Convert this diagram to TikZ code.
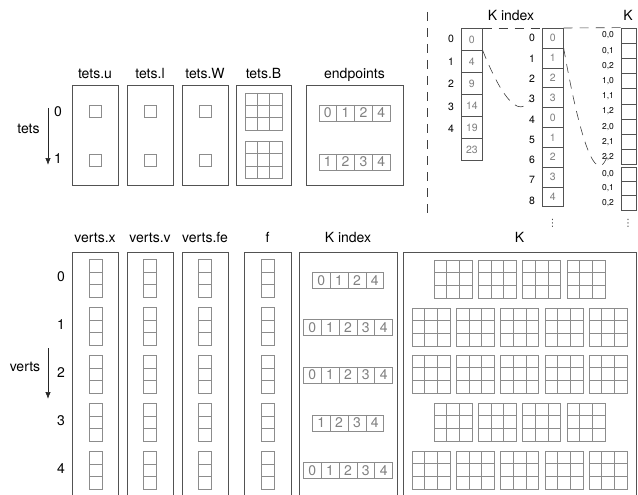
\documentclass[tikz,border=0pt]{standalone}
\usepackage{fontspec}
\setmainfont{TeX Gyre Heros}
\newfontfamily\dotsfont{DejaVu Sans}
\usetikzlibrary{shapes.multipart,arrows.meta,positioning,calc}
\usepackage{xcolor}
\definecolor{boxgray}{gray}{0.32}
\definecolor{cellgray}{gray}{0.55}
\definecolor{numgray}{gray}{0.5}

\begin{document}
\begin{tikzpicture}[x=1pt, y=-1pt,
  lbl/.style={font=\fontsize{14}{16}\selectfont, anchor=base, inner sep=0pt},
  idx/.style={font=\fontsize{14}{16}\selectfont, inner sep=0pt},
  sidx/.style={font=\fontsize{10.5}{12}\selectfont, inner sep=0pt},
  tidx/.style={font=\fontsize{8.5}{9}\selectfont, inner sep=0pt},
  vdot/.style={font=\dotsfont\fontsize{10}{10}\selectfont, text=black!70, inner sep=0pt},
  box/.style={draw=boxgray, line width=0.9pt, inner sep=0pt, minimum width=46pt},
  sq/.style={draw=cellgray, line width=0.7pt, inner sep=0pt, minimum size=12pt},
  kcell/.style={draw=boxgray, line width=0.7pt, inner sep=0pt, minimum width=15pt, minimum height=15.2pt},
  grid3/.style={draw=cellgray, line width=0.8pt, inner sep=0pt, minimum size=38pt,
    path picture={
      \foreach \q in {0.3333,0.6667} {
        \draw[cellgray, line width=0.8pt]
          ($(path picture bounding box.north west)!\q!(path picture bounding box.north east)$) --
          ($(path picture bounding box.south west)!\q!(path picture bounding box.south east)$)
          ($(path picture bounding box.north west)!\q!(path picture bounding box.south west)$) --
          ($(path picture bounding box.north east)!\q!(path picture bounding box.south east)$);
      }}},
  stack3/.style={draw=cellgray, line width=0.7pt, inner sep=0pt, minimum width=13pt, minimum height=37.5pt,
    path picture={
      \foreach \q in {0.3333,0.6667}
        \draw[cellgray, line width=0.7pt]
          ($(path picture bounding box.north west)!\q!(path picture bounding box.south west)$) --
          ($(path picture bounding box.north east)!\q!(path picture bounding box.south east)$);
    }},
  arr/.style={rectangle split, rectangle split horizontal, draw=cellgray, line width=0.7pt,
    text=numgray, font=\fontsize{14}{16}\selectfont, inner xsep=4.7pt, inner ysep=3pt},
  varr/.style={rectangle split, draw=boxgray, line width=0.7pt, anchor=north west,
    text=numgray, font=\fontsize{10.5}{12}\selectfont, minimum width=21pt, inner xsep=0pt},
  brk/.style={black!75, line width=0.6pt, dash pattern=on 9pt off 7pt},
  dn/.style={-{Latex[length=7pt,width=5.5pt]}, black!85, line width=0.7pt}
]
\useasboundingbox (0,0) rectangle (638,495);
\clip (0,0) rectangle (638,495);

\node[box, minimum height=100pt] (tu) at (95,135) {};
\node[box, minimum height=100pt] (tl) at (150,135) {};
\node[box, minimum height=100pt] (tw) at (205,135) {};
\node[box, minimum height=100pt, minimum width=55pt] (tb) at (263.5,135) {};
\node[box, minimum height=100pt, minimum width=97pt] (ep) at (354.5,135) {};
\node[lbl] (tul) at (95,79) {tets.u};
\node[lbl] (tll) at (150,79) {tets.l};
\node[lbl] (twl) at (205,79) {tets.W};
\node[lbl] (tbl) at (263.5,79) {tets.B};
\node[lbl] (epl) at (354.5,79) {endpoints};
\node[idx] (tr0) at (58,112) {0};
\node[idx] (tr1) at (58,159) {1};
\node[idx] (tlab) at (28.5,129) {tets};
\coordinate (ta0) at (48,108);
\coordinate (ta1) at (48,165);
\draw[dn] (ta0) -- (ta1);
\foreach \c/\x in {u/95,l/150,w/205} {
  \node[sq] (sq\c0) at (\x,111) {};
  \node[sq] (sq\c1) at (\x,160.5) {};
}
\node[grid3, minimum size=37pt] (b0) at (263.5,111.5) {};
\node[grid3, minimum size=37pt] (b1) at (263.5,160) {};
\node[arr, rectangle split parts=4] (ep0) at (354.5,113) {0\nodepart{two}1\nodepart{three}2\nodepart{four}4};
\node[arr, rectangle split parts=4] (ep1) at (354.5,162) {1\nodepart{two}2\nodepart{three}3\nodepart{four}4};

\draw[brk] (427,12) -- (427,215);
\node[lbl] (kil) at (511,20.5) {K index};
\node[lbl] (kl) at (628,20.5) {K};
\node[varr, rectangle split parts=6, inner ysep=6.9pt] (kidx) at (461,28)
  {0\nodepart{two}4\nodepart{three}9\nodepart{four}14\nodepart{five}19\nodepart{six}23};
\node[varr, rectangle split parts=9, inner ysep=5.8pt] (kpos) at (542,28)
  {0\nodepart{two}1\nodepart{three}2\nodepart{four}3\nodepart{five}0\nodepart{six}1\nodepart{seven}2\nodepart{eight}3\nodepart{nine}4};
\foreach \a/\b [count=\i from 0] in {0/0,0/1,0/2,1/0,1/1,1/2,2/0,2/1,2/2} {
  \node[kcell] (kc\i) at (628.5,35.6+15.2*\i) {};
  \node[tidx] (kk\i) at (608,35.6+15.2*\i) {\a,\b};
}
\foreach \a/\b [count=\i from 0] in {0/0,0/1,0/2} {
  \node[kcell, minimum height=14.3pt] (kd\i) at (628.5,174.2+14.3*\i) {};
  \node[tidx] (kq\i) at (608,174.2+14.3*\i) {\a,\b};
}
\foreach \i in {0,...,4}
  \node[sidx] (kr\i) at (451,39.25+22.5*\i) {\i};
\foreach \i in {0,...,8}
  \node[sidx] (pr\i) at (532,38.2+20.3*\i) {\i};
\node[vdot] (pdots) at (552.5,223) {⋮};
\node[vdot] (kdots) at (628,223) {⋮};
\coordinate (kend) at (530,100);
\coordinate (pend) at (607,157);
\draw[brk] (kidx.north east) -- (kpos.north west);
\draw[brk] (kpos.north east) -- (kc0.north west);
\draw[brk] (kidx.one split east) .. controls +(10,25) and +(-15,25) .. (kend);
\draw[brk] (kpos.one split east) .. controls +(9,51) and +(-15,38) .. (pend);

\node[box, minimum height=250pt] (vx) at (95,377) {};
\node[box, minimum height=250pt] (vv) at (150,377) {};
\node[box, minimum height=250pt] (vfe) at (205,377) {};
\node[box, minimum height=250pt, minimum width=47pt] (vf) at (267.5,377) {};
\node[box, minimum height=250pt, minimum width=98pt] (vki) at (348,377) {};
\node[box, minimum height=250pt, minimum width=233pt] (vk) at (519.5,377) {};
\node[lbl] (vxl) at (95,242.5) {verts.x};
\node[lbl] (vvl) at (150,242.5) {verts.v};
\node[lbl] (vfel) at (205,242.5) {verts.fe};
\node[lbl] (vfl) at (267.5,242.5) {f};
\node[lbl] (vkil) at (348,242.5) {K index};
\node[lbl] (vkl) at (519.5,242.5) {K};
\foreach \i in {0,...,4}
  \node[idx] (vr\i) at (61,277+47.8*\i) {\i};
\node[idx] (vlab) at (25,367) {verts};
\coordinate (va0) at (48,348);
\coordinate (va1) at (48,399);
\draw[dn] (va0) -- (va1);
\foreach \c/\x in {x/95.5,v/150,fe/204.5,f/268}
  \foreach \i in {0,...,4}
    \node[stack3] (s\c\i) at (\x,278.5+47.9*\i) {};
\node[arr, rectangle split parts=4] (ki0) at (348,280.5) {0\nodepart{two}1\nodepart{three}2\nodepart{four}4};
\node[arr, rectangle split parts=5] (ki1) at (348,327.5) {0\nodepart{two}1\nodepart{three}2\nodepart{four}3\nodepart{five}4};
\node[arr, rectangle split parts=5] (ki2) at (348,375) {0\nodepart{two}1\nodepart{three}2\nodepart{four}3\nodepart{five}4};
\node[arr, rectangle split parts=4] (ki3) at (348,423) {1\nodepart{two}2\nodepart{three}3\nodepart{four}4};
\node[arr, rectangle split parts=5] (ki4) at (348,470.5) {0\nodepart{two}1\nodepart{three}2\nodepart{four}3\nodepart{five}4};
\foreach \r/\y in {0/279,3/422}
  \foreach \k in {0,...,3}
    \node[grid3] (k\r-\k) at (453+44.3*\k,\y) {};
\foreach \r/\y in {1/327,2/374,4/470}
  \foreach \k in {0,...,4}
    \node[grid3] (k\r-\k) at (431+44.3*\k,\y) {};
\end{tikzpicture}
\end{document}
